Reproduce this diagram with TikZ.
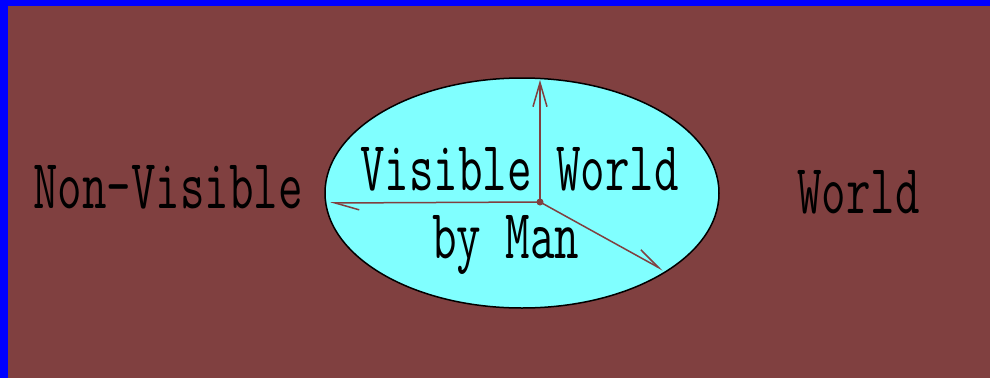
\documentclass[tikz,border=0pt]{standalone}
\usepackage{fontspec}
\usepackage{graphicx}
\usetikzlibrary{arrows.meta, shapes.geometric}

\definecolor{brownbg}{RGB}{128,64,64}
\definecolor{skycyan}{RGB}{128,255,255}
\newcommand{\tallword}[1]{\scalebox{1}[1.48]{#1}}

\begin{document}
\begin{tikzpicture}[
    x=1pt, y=-1pt,
    lbl/.style={font=\fontsize{47.6}{50}\selectfont\ttfamily, inner sep=0pt, anchor=base west},
    axis/.style={draw=brownbg, line width=1.5pt},
    tip/.style={-{Straight Barb[length=24pt, width=14pt]}},
    halftip/.style={-{Straight Barb[harpoon, length=24pt, width=14pt]}}
]
    % Frame and background
    \fill[blue] (0,0) rectangle (990,378);
    \fill[brownbg] (8,6) rectangle (990,378);
    \useasboundingbox (0,0) rectangle (990,378);

    % Visible world
    \node[ellipse, draw=black, fill=skycyan, line width=1.5pt,
          minimum width=394pt, minimum height=230pt] (vis) at (522,193) {};

    % Labels
    \node[lbl] (nonvis) at (33,208)  {\tallword{Non-Visible}};
    \node[lbl] (visw)   at (360,190) {\tallword{Visible World}};
    \node[lbl] (byman)  at (432,258) {\tallword{by Man}};
    \node[lbl] (world)  at (797,213) {\tallword{World}};

    % Axes from the centre
    \coordinate (O)  at (540,202);
    \coordinate (up) at (540,80);
    \coordinate (lt) at (330,203);
    \coordinate (dn) at (663,270);
    \draw[axis, tip]     (O) -- (up);
    \draw[axis, halftip] (O) -- (lt);
    \draw[axis, halftip] (O) -- (dn);
    \fill[brownbg] (O) circle (3.5pt);
\end{tikzpicture}
\end{document}
